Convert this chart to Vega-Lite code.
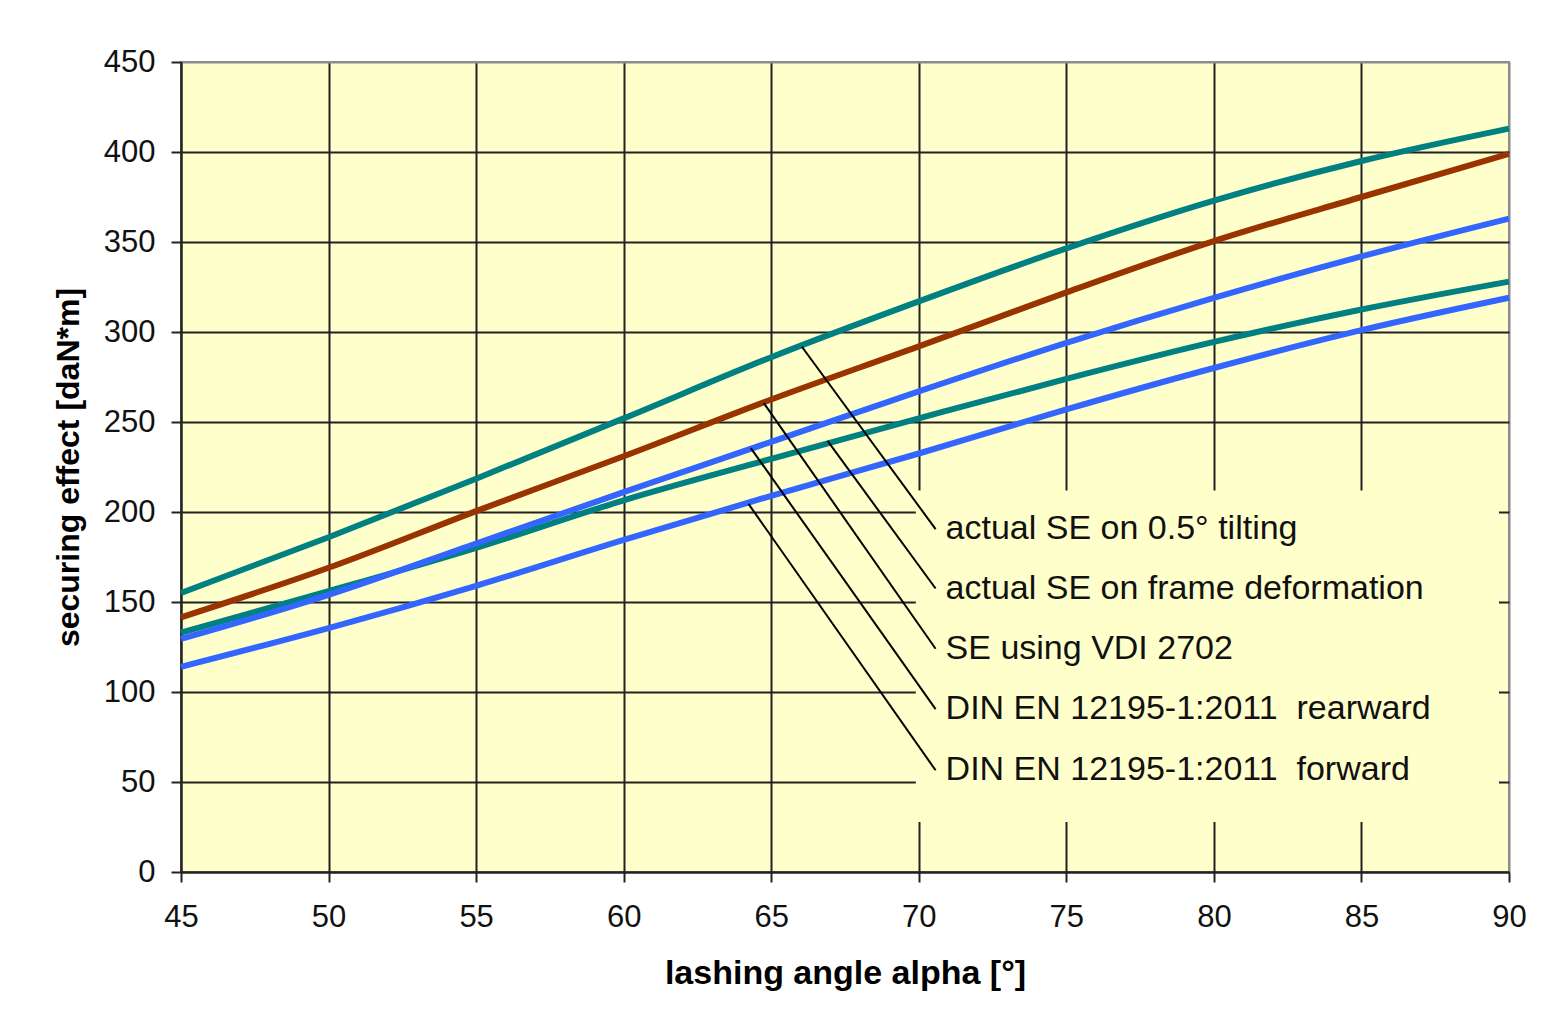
{
  "$schema": "https://vega.github.io/schema/vega-lite/v6.json",
  "width": 1328,
  "height": 810,
  "autosize": {"type": "none"},
  "padding": {"left": 181, "top": 62, "right": 34, "bottom": 160},
  "background": "#ffffff",
  "config": {
    "font": "Liberation Sans",
    "view": {"fill": "#FFFFCC", "stroke": "#8c8c8c", "strokeWidth": 2},
    "axis": {
      "labelFont": "Liberation Sans",
      "labelFontSize": 31,
      "labelColor": "#111111",
      "labelFlush": false,
      "titleFont": "Liberation Sans",
      "titleFontWeight": "bold",
      "titleColor": "#000000",
      "domainColor": "#222222",
      "domainWidth": 2,
      "tickColor": "#222222",
      "tickWidth": 2,
      "tickSize": 10,
      "gridWidth": 2,
      "gridOpacity": 1
    }
  },
  "datasets": {
    "curves": [
      {"series": "tilting", "alpha": 45, "se": 155},
      {"series": "tilting", "alpha": 50, "se": 186},
      {"series": "tilting", "alpha": 55, "se": 218.5},
      {"series": "tilting", "alpha": 60, "se": 252},
      {"series": "tilting", "alpha": 65, "se": 286},
      {"series": "tilting", "alpha": 70, "se": 317},
      {"series": "tilting", "alpha": 75, "se": 346.5},
      {"series": "tilting", "alpha": 80, "se": 373},
      {"series": "tilting", "alpha": 85, "se": 395},
      {"series": "tilting", "alpha": 90, "se": 413},
      {"series": "frame", "alpha": 45, "se": 133},
      {"series": "frame", "alpha": 50, "se": 156},
      {"series": "frame", "alpha": 55, "se": 180},
      {"series": "frame", "alpha": 60, "se": 206.5},
      {"series": "frame", "alpha": 65, "se": 229.5},
      {"series": "frame", "alpha": 70, "se": 252},
      {"series": "frame", "alpha": 75, "se": 274},
      {"series": "frame", "alpha": 80, "se": 294.5},
      {"series": "frame", "alpha": 85, "se": 312.5},
      {"series": "frame", "alpha": 90, "se": 328},
      {"series": "vdi", "alpha": 45, "se": 141.5},
      {"series": "vdi", "alpha": 50, "se": 169},
      {"series": "vdi", "alpha": 55, "se": 200.5},
      {"series": "vdi", "alpha": 60, "se": 231},
      {"series": "vdi", "alpha": 65, "se": 262.5},
      {"series": "vdi", "alpha": 70, "se": 292},
      {"series": "vdi", "alpha": 75, "se": 322},
      {"series": "vdi", "alpha": 80, "se": 350.5},
      {"series": "vdi", "alpha": 85, "se": 375},
      {"series": "vdi", "alpha": 90, "se": 399},
      {"series": "rearward", "alpha": 45, "se": 129.5},
      {"series": "rearward", "alpha": 50, "se": 154},
      {"series": "rearward", "alpha": 55, "se": 182.5},
      {"series": "rearward", "alpha": 60, "se": 211},
      {"series": "rearward", "alpha": 65, "se": 239},
      {"series": "rearward", "alpha": 70, "se": 267},
      {"series": "rearward", "alpha": 75, "se": 294},
      {"series": "rearward", "alpha": 80, "se": 319},
      {"series": "rearward", "alpha": 85, "se": 342},
      {"series": "rearward", "alpha": 90, "se": 363},
      {"series": "forward", "alpha": 45, "se": 114},
      {"series": "forward", "alpha": 50, "se": 135.5},
      {"series": "forward", "alpha": 55, "se": 159},
      {"series": "forward", "alpha": 60, "se": 184.5},
      {"series": "forward", "alpha": 65, "se": 209},
      {"series": "forward", "alpha": 70, "se": 232.5},
      {"series": "forward", "alpha": 75, "se": 257},
      {"series": "forward", "alpha": 80, "se": 280},
      {"series": "forward", "alpha": 85, "se": 301},
      {"series": "forward", "alpha": 90, "se": 319}
    ],
    "leaders": [
      {"label": "actual SE on 0.5° tilting", "a1": 66.04, "v1": 291.8, "a2": 70.57, "v2": 190.5},
      {"label": "actual SE on frame deformation", "a1": 66.91, "v1": 239.5, "a2": 70.57, "v2": 157.5},
      {"label": "SE using VDI 2702", "a1": 64.75, "v1": 260.5, "a2": 70.57, "v2": 124},
      {"label": "DIN EN 12195-1:2011\u00a0 rearward", "a1": 64.31, "v1": 235.5, "a2": 70.57, "v2": 90.5},
      {"label": "DIN EN 12195-1:2011\u00a0 forward", "a1": 64.23, "v1": 204.5, "a2": 70.57, "v2": 56.5}
    ],
    "box": [{"a1": 69.9, "a2": 89.66, "v1": 27.8, "v2": 212}]
  },
  "layer": [
    {
      "data": {"name": "curves"},
      "mark": {"type": "line", "strokeWidth": 6, "interpolate": "monotone"},
      "encoding": {
        "x": {
          "field": "alpha", "type": "quantitative",
          "scale": {"domain": [45, 90], "nice": false, "zero": false},
          "axis": {
            "title": "lashing angle alpha [°]",
            "titleFontSize": 34,
            "titlePadding": 24,
            "values": [45, 50, 55, 60, 65, 70, 75, 80, 85, 90],
            "labelPadding": 20,
            "grid": true,
            "gridColor": {"condition": {"test": "datum.value === 90", "value": "#8c8c8c"}, "value": "#222222"}
          }
        },
        "y": {
          "field": "se", "type": "quantitative",
          "scale": {"domain": [0, 450], "nice": false},
          "axis": {
            "title": "securing effect [daN*m]",
            "titleFontSize": 32,
            "titlePadding": 18,
            "values": [0, 50, 100, 150, 200, 250, 300, 350, 400, 450],
            "labelPadding": 16,
            "grid": true,
            "gridColor": {"condition": {"test": "datum.value === 450", "value": "#8c8c8c"}, "value": "#222222"}
          }
        },
        "color": {
          "field": "series", "type": "nominal",
          "scale": {
            "domain": ["tilting", "frame", "vdi", "rearward", "forward"],
            "range": ["#008080", "#008080", "#993300", "#3366FF", "#3366FF"]
          },
          "legend": null
        }
      }
    },
    {
      "data": {"name": "box"},
      "mark": {"type": "rect", "fill": "#FFFFCC", "stroke": null},
      "encoding": {
        "x": {"field": "a1", "type": "quantitative", "title": "lashing angle alpha [°]"},
        "x2": {"field": "a2"},
        "y": {"field": "v1", "type": "quantitative", "title": "securing effect [daN*m]"},
        "y2": {"field": "v2"}
      }
    },
    {
      "data": {"name": "leaders"},
      "mark": {"type": "rule", "color": "#000000", "strokeWidth": 2},
      "encoding": {
        "x": {"field": "a1", "type": "quantitative", "title": "lashing angle alpha [°]"},
        "y": {"field": "v1", "type": "quantitative", "title": "securing effect [daN*m]"},
        "x2": {"field": "a2"},
        "y2": {"field": "v2"}
      }
    },
    {
      "data": {"name": "leaders"},
      "mark": {"type": "text", "align": "left", "baseline": "middle", "dx": 10, "fontSize": 34, "font": "Liberation Sans", "color": "#111111"},
      "encoding": {
        "x": {"field": "a2", "type": "quantitative", "title": "lashing angle alpha [°]"},
        "y": {"field": "v2", "type": "quantitative", "title": "securing effect [daN*m]"},
        "text": {"field": "label"}
      }
    }
  ]
}
